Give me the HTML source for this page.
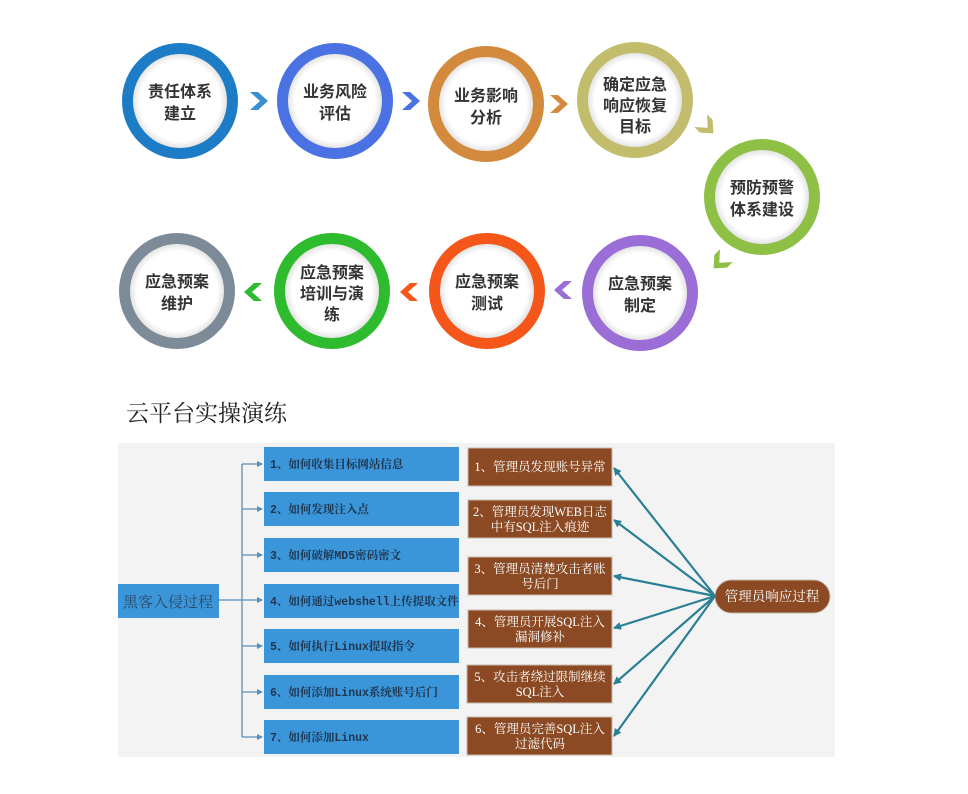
<!DOCTYPE html>
<html><head><meta charset="utf-8"><style>
body{margin:0;background:#fff;width:968px;height:794px;overflow:hidden}
svg{display:block}
</style></head><body>
<svg width="968" height="794" viewBox="0 0 968 794" xmlns="http://www.w3.org/2000/svg">
<defs>
<radialGradient id="w" cx="50%" cy="50%" r="50%"><stop offset="85%" stop-color="#fff"/><stop offset="100%" stop-color="#e4e4e4"/></radialGradient>
<marker id="ah" markerWidth="8" markerHeight="8" refX="7" refY="4" orient="auto" markerUnits="userSpaceOnUse"><path d="M0,0 L8,4 L0,8 z" fill="#2a7f95"/></marker>
<marker id="bh" markerWidth="6" markerHeight="6" refX="5" refY="3" orient="auto" markerUnits="userSpaceOnUse"><path d="M0,0 L6,3 L0,6 z" fill="#5a8fb8"/></marker>
<path id="chev" d="M-9,-9 h8 l10,9 l-10,9 h-8 l10,-9z"/>
</defs>
<g font-family="Liberation Sans, Noto Sans CJK SC, sans-serif" font-weight="bold" font-size="16" fill="#333" text-anchor="middle">
<g>
<circle cx="180" cy="101" r="58" fill="#1d7cc6"/><circle cx="180" cy="101" r="47" fill="url(#w)"/>
<text x="180" y="97">责任体系</text><text x="180" y="119">建立</text>
<circle cx="335" cy="101" r="58" fill="#4a72e2"/><circle cx="335" cy="101" r="47" fill="url(#w)"/>
<text x="335" y="97">业务风险</text><text x="335" y="119">评估</text>
<circle cx="486" cy="104" r="58" fill="#d48a3c"/><circle cx="486" cy="104" r="47" fill="url(#w)"/>
<text x="486" y="101">业务影响</text><text x="486" y="123">分析</text>
<circle cx="635" cy="100" r="58" fill="#c2bd6c"/><circle cx="635" cy="100" r="47" fill="url(#w)"/>
<text x="635" y="90">确定应急</text><text x="635" y="111">响应恢复</text><text x="635" y="132">目标</text>
<circle cx="762" cy="197" r="58" fill="#8fc046"/><circle cx="762" cy="197" r="47" fill="url(#w)"/>
<text x="762" y="193">预防预警</text><text x="762" y="215">体系建设</text>
<circle cx="640" cy="293" r="58" fill="#9a6ed6"/><circle cx="640" cy="293" r="47" fill="url(#w)"/>
<text x="640" y="289">应急预案</text><text x="640" y="311">制定</text>
<circle cx="487" cy="291" r="58" fill="#f5561a"/><circle cx="487" cy="291" r="47" fill="url(#w)"/>
<text x="487" y="287">应急预案</text><text x="487" y="309">测试</text>
<circle cx="332" cy="291" r="58" fill="#2ebc2e"/><circle cx="332" cy="291" r="47" fill="url(#w)"/>
<text x="332" y="278">应急预案</text><text x="332" y="299">培训与演</text><text x="332" y="320">练</text>
<circle cx="177" cy="291" r="58" fill="#7d8a98"/><circle cx="177" cy="291" r="47" fill="url(#w)"/>
<text x="177" y="287">应急预案</text><text x="177" y="309">维护</text>
</g>
<use href="#chev" transform="translate(259,101)" fill="#3a8fd0"/>
<use href="#chev" transform="translate(411,101)" fill="#4a72e2"/>
<use href="#chev" transform="translate(559,104)" fill="#d48a3c"/>
<use href="#chev" transform="translate(707,127) rotate(45)" fill="#c2bd6c"/>
<use href="#chev" transform="translate(720,262) rotate(135)" fill="#8fc046"/>
<use href="#chev" transform="translate(563,290) rotate(180)" fill="#9a6ed6"/>
<use href="#chev" transform="translate(409,292) rotate(180)" fill="#f5561a"/>
<use href="#chev" transform="translate(253,292) rotate(180)" fill="#2ebc2e"/>
</g>
<text x="126" y="421" font-family="Liberation Serif, Noto Serif CJK SC, serif" font-size="23" fill="#222">云平台实操演练</text>
<rect x="118" y="443" width="717" height="314" fill="#f3f3f3"/>
<rect x="118" y="584" width="101" height="34" fill="#3a96d8"/>
<text x="168" y="607" text-anchor="middle" font-family="Liberation Serif, Noto Serif CJK SC, serif" font-size="15" fill="#2a4a6a">黑客入侵过程</text>
<g stroke="#5a8fb8" stroke-width="1.3" fill="none">
<line x1="219" y1="600" x2="262" y2="600" marker-end="url(#bh)"/>
<line x1="242" y1="464" x2="242" y2="737"/>
<line x1="242" y1="464" x2="262" y2="464" marker-end="url(#bh)"/>
<line x1="242" y1="509" x2="262" y2="509" marker-end="url(#bh)"/>
<line x1="242" y1="555" x2="262" y2="555" marker-end="url(#bh)"/>
<line x1="242" y1="646" x2="262" y2="646" marker-end="url(#bh)"/>
<line x1="242" y1="692" x2="262" y2="692" marker-end="url(#bh)"/>
<line x1="242" y1="737" x2="262" y2="737" marker-end="url(#bh)"/>
</g>
<g font-family="Liberation Mono, Noto Serif CJK SC, monospace" font-size="11.5" font-weight="bold" fill="#1f3550">
<rect x="264" y="447" width="195" height="34" fill="#3a96d8"/><text x="270" y="468">1、如何收集目标网站信息</text>
<rect x="264" y="492" width="195" height="34" fill="#3a96d8"/><text x="270" y="513">2、如何发现注入点</text>
<rect x="264" y="538" width="195" height="34" fill="#3a96d8"/><text x="270" y="559">3、如何破解MD5密码密文</text>
<rect x="264" y="584" width="195" height="34" fill="#3a96d8"/><text x="270" y="605">4、如何通过webshell上传提取文件</text>
<rect x="264" y="629" width="195" height="34" fill="#3a96d8"/><text x="270" y="650">5、如何执行Linux提取指令</text>
<rect x="264" y="675" width="195" height="34" fill="#3a96d8"/><text x="270" y="696">6、如何添加Linux系统账号后门</text>
<rect x="264" y="720" width="195" height="34" fill="#3a96d8"/><text x="270" y="741">7、如何添加Linux</text>
</g>
<g font-family="Liberation Serif, Noto Serif CJK SC, serif" font-size="12.5" fill="#fff" text-anchor="middle">
<g fill="#8b4a23" stroke="#c9b9ad" stroke-width="1">
<rect x="468" y="448" width="144" height="38"/>
<rect x="468" y="500" width="144" height="38"/>
<rect x="468" y="557" width="144" height="38"/>
<rect x="468" y="610" width="144" height="38"/>
<rect x="467" y="665" width="145" height="38"/>
<rect x="467" y="717" width="145" height="38"/>
<rect x="715" y="580" width="115" height="33" rx="16.5"/>
</g>
<text x="540" y="471">1、管理员发现账号异常</text>
<text x="540" y="516">2、管理员发现WEB日志</text><text x="540" y="531">中有SQL注入痕迹</text>
<text x="540" y="573">3、管理员清楚攻击者账</text><text x="540" y="588">号后门</text>
<text x="540" y="626">4、管理员开展SQL注入</text><text x="540" y="641">漏洞修补</text>
<text x="540" y="681">5、攻击者绕过限制继续</text><text x="540" y="696">SQL注入</text>
<text x="540" y="733">6、管理员完善SQL注入</text><text x="540" y="748">过滤代码</text>
<text x="772" y="601" font-size="13.5">管理员响应过程</text>
</g>
<g stroke="#2a7f95" stroke-width="2.2" fill="none">
<line x1="715" y1="596" x2="614" y2="468" marker-end="url(#ah)"/>
<line x1="715" y1="596" x2="614" y2="520" marker-end="url(#ah)"/>
<line x1="715" y1="596" x2="614" y2="576" marker-end="url(#ah)"/>
<line x1="715" y1="596" x2="614" y2="628" marker-end="url(#ah)"/>
<line x1="715" y1="596" x2="614" y2="684" marker-end="url(#ah)"/>
<line x1="715" y1="596" x2="614" y2="736" marker-end="url(#ah)"/>
</g>
</svg>
</body></html>
